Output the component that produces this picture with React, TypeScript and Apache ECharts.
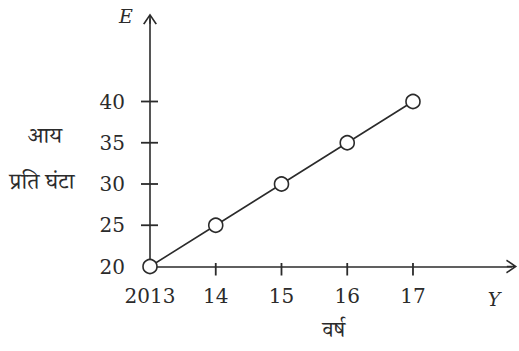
import React, { useEffect, useRef } from "react";
import * as echarts from "echarts";

const years = [2013, 2014, 2015, 2016, 2017];
const xTickLabels = ["2013", "14", "15", "16", "17"];
const earnings = [20, 25, 30, 35, 40];
const yTickValues = [20, 25, 30, 35, 40];
const xTickMarks = [2014, 2015, 2016, 2017];
const yTickMarks = [25, 30, 35, 40];
const xAxisMin = 2013;
const xAxisMax = 2018.5;
const yAxisMin = 20;
const yAxisMax = 50;
const yAxisTitleTop = "आय";
const yAxisTitleBottom = "प्रति घंटा";
const xAxisTitle = "वर्ष";
const xAxisLetter = "Y";
const yAxisLetter = "E";

const INK = "#2b2b2b";
const SERIF = "'DejaVu Serif','Liberation Serif',serif";
const DEVA = "'Noto Serif Devanagari','Noto Sans Devanagari','Lohit Devanagari','FreeSerif','Noto Sans',serif";
const ARROW =
  "path://M0,11 L7.5,0 L15,11 L13.4,11.8 L7.5,3 L1.6,11.8 Z M6.7,1 L8.3,1 L8.3,11 L6.7,11 Z";

export default function App() {
  const ref = useRef<HTMLDivElement>(null);
  useEffect(() => {
    if (!ref.current) return;
    const chart = echarts.init(ref.current, null, { renderer: "svg" });
    const data = years.map((y, i) => [y, earnings[i]]);

    const texts = [
      {
        type: "text",
        x: 126,
        y: 16,
        style: { text: yAxisLetter, font: `italic 19px ${SERIF}`, fill: INK, align: "center", verticalAlign: "middle" },
      },
      {
        type: "text",
        x: 494,
        y: 299,
        style: { text: xAxisLetter, font: `italic 19px ${SERIF}`, fill: INK, align: "center", verticalAlign: "middle" },
      },
      {
        type: "text",
        x: 45,
        y: 139,
        style: { text: yAxisTitleTop, font: `23px ${DEVA}`, fill: INK, align: "center", verticalAlign: "middle" },
      },
      {
        type: "text",
        x: 42,
        y: 185,
        style: { text: yAxisTitleBottom, font: `23px ${DEVA}`, fill: INK, align: "center", verticalAlign: "middle" },
      },
    ];

    chart.setOption({
      animation: false,
      backgroundColor: "#ffffff",
      grid: { left: 150, right: 7.4, top: 19, bottom: 84.5, containLabel: false, outerBoundsMode: "none" },
      xAxis: {
        type: "value",
        min: xAxisMin,
        max: xAxisMax,
        position: "bottom",
        name: xAxisTitle,
        nameLocation: "middle",
        nameGap: 67,
        nameTextStyle: { fontFamily: DEVA, fontSize: 22, color: INK, verticalAlign: "middle", padding: [0, 0, 0, 6] },
        axisLine: {
          show: true,
          onZero: false,
          lineStyle: { color: INK, width: 1.6 },
          symbol: ["none", ARROW],
          symbolSize: [15, 11],
        },
        axisTick: { show: false },
        axisLabel: {
          show: true,
          margin: 19,
          fontFamily: SERIF,
          fontSize: 20,
          color: INK,
          customValues: years,
          formatter: (v: number) => {
            const i = years.indexOf(Math.round(v));
            return i >= 0 ? xTickLabels[i] : "";
          },
        },
        splitLine: { show: false },
      },
      yAxis: {
        type: "value",
        min: yAxisMin,
        max: yAxisMax,
        position: "left",
        axisLine: {
          show: true,
          onZero: false,
          lineStyle: { color: INK, width: 1.6 },
          symbol: ["none", ARROW],
          symbolSize: [15, 11],
        },
        axisTick: { show: false },
        axisLabel: {
          show: true,
          margin: 25,
          fontFamily: SERIF,
          fontSize: 20,
          color: INK,
          customValues: yTickValues,
        },
        splitLine: { show: false },
      },
      series: [
        {
          type: "line",
          name: "income",
          data,
          symbol: "circle",
          symbolSize: 14,
          showSymbol: true,
          lineStyle: { color: INK, width: 1.6 },
          itemStyle: { color: "#ffffff", borderColor: INK, borderWidth: 1.6 },
          z: 5,
        },
      ],
      graphic: texts,
    });

    // tick marks as filled rectangles placed through the chart's own scales
    const tickRects: any[] = [];
    xTickMarks.forEach((x) => {
      const p = chart.convertToPixel({ xAxisIndex: 0, yAxisIndex: 0 }, [x, yAxisMin]) as number[];
      if (p && isFinite(p[0]) && isFinite(p[1])) {
        tickRects.push({
          type: "rect",
          shape: { x: p[0] - 0.9, y: p[1] - 3.5, width: 1.8, height: 12.5 },
          style: { fill: INK },
          silent: true,
          z: 200,
          zlevel: 1,
        });
      }
    });
    yTickMarks.forEach((y) => {
      const p = chart.convertToPixel({ xAxisIndex: 0, yAxisIndex: 0 }, [xAxisMin, y]) as number[];
      if (p && isFinite(p[0]) && isFinite(p[1])) {
        tickRects.push({
          type: "rect",
          shape: { x: p[0] - 9, y: p[1] - 0.9, width: 17, height: 1.8 },
          style: { fill: INK },
          silent: true,
          z: 200,
          zlevel: 1,
        });
      }
    });

    chart.setOption({ graphic: [...texts, ...tickRects] }, { replaceMerge: ["graphic"] });
    return () => chart.dispose();
  }, []);
  return (
    <div
      ref={ref}
      style={{ position: "absolute", left: 0, top: 0, width: 519, height: 351, background: "#fff" }}
    />
  );
}
